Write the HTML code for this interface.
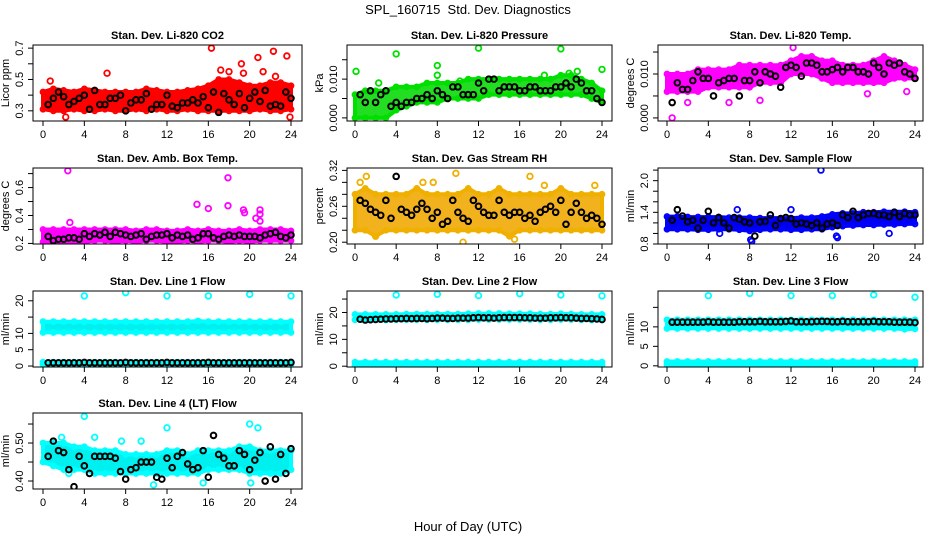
<!DOCTYPE html>
<html><head><meta charset="utf-8"><style>
body{margin:0;background:#fff}
svg{display:block;font-family:"Liberation Sans",Arial,sans-serif}
</style></head><body>
<svg id="chart" width="936" height="540" viewBox="0 0 936 540">
<text x="468" y="14" text-anchor="middle" font-size="13">SPL_160715&#160;&#160;Std. Dev. Diagnostics</text>
<text x="468" y="531" text-anchor="middle" font-size="13">Hour of Day (UTC)</text>
</svg>
<script>
// ---- data (hourly band low/high at hours 0..24, black half-hour means, outliers [hour,value]) ----
const co2Lo=[0.31,0.30,0.30,0.31,0.30,0.30,0.31,0.30,0.30,0.31,0.30,0.31,0.30,0.30,0.31,0.30,0.30,0.30,0.30,0.30,0.30,0.31,0.30,0.30,0.31];
const co2Hi=[0.42,0.44,0.43,0.42,0.44,0.43,0.42,0.42,0.42,0.42,0.44,0.43,0.42,0.42,0.43,0.44,0.46,0.50,0.50,0.48,0.46,0.46,0.48,0.48,0.46];
const co2Black=[0.34,0.38,0.42,0.39,0.34,0.36,0.38,0.40,0.31,0.43,0.34,0.34,0.38,0.38,0.40,0.30,0.35,0.37,0.37,0.41,0.31,0.34,0.34,0.40,0.33,0.32,0.35,0.35,0.37,0.35,0.39,0.32,0.42,0.29,0.41,0.37,0.34,0.41,0.32,0.38,0.42,0.36,0.43,0.33,0.34,0.33,0.42,0.38];
const co2Out=[[6.2,0.54],[16.3,0.70],[20.8,0.64],[22.3,0.68],[23.6,0.65],[19.2,0.60],[19.4,0.54],[17.2,0.56],[0.7,0.49],[23.9,0.26],[2.2,0.26],[21.3,0.55],[18.0,0.55],[22.5,0.52]];

const presLo=[0.000,0.000,0.000,0.000,0.002,0.003,0.004,0.004,0.004,0.005,0.005,0.005,0.005,0.006,0.006,0.006,0.006,0.006,0.006,0.006,0.006,0.006,0.006,0.005,0.004];
const presHi=[0.006,0.007,0.007,0.007,0.008,0.008,0.008,0.009,0.009,0.009,0.009,0.010,0.010,0.010,0.010,0.010,0.010,0.010,0.010,0.010,0.011,0.011,0.010,0.009,0.007];
const presBlack=[0.006,0.004,0.007,0.004,0.006,0.007,0.003,0.004,0.003,0.004,0.004,0.005,0.005,0.006,0.005,0.007,0.006,0.005,0.008,0.008,0.006,0.006,0.006,0.009,0.007,0.010,0.010,0.007,0.008,0.008,0.008,0.007,0.007,0.008,0.008,0.007,0.007,0.007,0.008,0.008,0.009,0.008,0.010,0.009,0.007,0.007,0.005,0.004];
const presOut=[[0.1,0.0120],[4.0,0.0165],[8.0,0.0135],[8.0,0.0110],[12.0,0.0180],[20.0,0.0178],[24.0,0.0125],[2.3,0.0090],[18.4,0.0110],[20.8,0.0115],[21.6,0.0120],[10.2,0.0095]];

const tempLo=[0.006,0.006,0.006,0.006,0.007,0.007,0.007,0.007,0.007,0.008,0.008,0.008,0.010,0.010,0.010,0.009,0.008,0.008,0.008,0.008,0.008,0.008,0.009,0.009,0.009];
const tempHi=[0.010,0.010,0.010,0.011,0.011,0.011,0.011,0.012,0.012,0.012,0.012,0.012,0.013,0.014,0.014,0.013,0.013,0.012,0.012,0.012,0.013,0.014,0.013,0.012,0.011];
const tempBlack=[0.0035,0.008,0.0065,0.0065,0.0085,0.0105,0.009,0.009,0.005,0.008,0.0085,0.009,0.009,0.005,0.0085,0.0085,0.0105,0.008,0.0105,0.010,0.0095,0.007,0.0115,0.012,0.0115,0.0095,0.0125,0.0125,0.012,0.0105,0.0105,0.011,0.0115,0.0105,0.0115,0.0115,0.0105,0.0105,0.010,0.0125,0.0115,0.010,0.0125,0.012,0.0125,0.0105,0.010,0.009];
const tempOut=[[0.5,0.0],[12.2,0.0160],[2.0,0.0035],[6.0,0.0035],[9.0,0.0040],[19.4,0.0055],[23.2,0.0060]];

const ambLo=[0.21,0.21,0.21,0.21,0.21,0.22,0.22,0.21,0.22,0.21,0.22,0.22,0.21,0.21,0.22,0.21,0.22,0.22,0.21,0.22,0.21,0.22,0.22,0.22,0.22];
const ambHi=[0.30,0.30,0.30,0.30,0.30,0.30,0.30,0.30,0.30,0.29,0.30,0.30,0.29,0.29,0.30,0.29,0.30,0.29,0.29,0.30,0.29,0.30,0.30,0.30,0.29];
const ambBlack=[0.25,0.22,0.23,0.23,0.24,0.24,0.23,0.27,0.25,0.27,0.26,0.28,0.25,0.28,0.27,0.26,0.25,0.26,0.27,0.23,0.25,0.26,0.26,0.27,0.24,0.26,0.25,0.26,0.23,0.24,0.27,0.27,0.24,0.23,0.25,0.26,0.25,0.26,0.25,0.25,0.25,0.24,0.26,0.27,0.28,0.25,0.24,0.26];
const ambOut=[[2.4,0.72],[17.9,0.67],[14.9,0.48],[17.9,0.47],[16.0,0.45],[19.4,0.44],[19.5,0.42],[21.0,0.44],[21.0,0.41],[20.6,0.38],[21.0,0.36],[2.6,0.35]];

const rhLo=[0.22,0.22,0.21,0.22,0.22,0.22,0.22,0.22,0.22,0.22,0.22,0.22,0.22,0.22,0.22,0.21,0.22,0.22,0.22,0.22,0.22,0.22,0.22,0.22,0.22];
const rhHi=[0.28,0.29,0.28,0.28,0.28,0.28,0.29,0.28,0.28,0.28,0.28,0.29,0.28,0.28,0.29,0.28,0.28,0.28,0.28,0.28,0.29,0.28,0.28,0.28,0.28];
const rhBlack=[0.27,0.265,0.255,0.25,0.245,0.27,0.24,0.31,0.255,0.25,0.245,0.255,0.265,0.255,0.24,0.25,0.23,0.235,0.27,0.25,0.24,0.235,0.27,0.26,0.25,0.245,0.245,0.27,0.25,0.245,0.25,0.25,0.24,0.245,0.235,0.25,0.255,0.26,0.25,0.27,0.23,0.25,0.265,0.25,0.24,0.245,0.24,0.23];
const rhOut=[[0.5,0.30],[1.1,0.31],[9.8,0.315],[17.0,0.31],[10.5,0.20],[2.0,0.21],[15.5,0.205],[6.6,0.30],[7.6,0.30],[18.4,0.295],[23.3,0.295]];

const sfLo=[1.08,1.08,1.08,1.07,1.07,1.08,1.08,1.07,1.05,1.07,1.08,1.08,1.07,1.07,1.08,1.08,1.12,1.14,1.15,1.16,1.16,1.17,1.17,1.18,1.18];
const sfHi=[1.32,1.32,1.31,1.31,1.31,1.31,1.30,1.30,1.30,1.29,1.29,1.29,1.29,1.30,1.30,1.32,1.36,1.38,1.38,1.40,1.40,1.41,1.41,1.41,1.40];
const sfBlack=[1.25,1.45,1.33,1.22,1.25,1.10,1.25,1.42,1.20,1.30,1.20,1.10,1.30,1.27,1.22,1.20,0.95,1.22,1.23,1.35,1.15,1.28,1.30,1.28,1.18,1.20,1.18,1.15,1.20,1.10,1.18,1.20,1.15,1.35,1.30,1.42,1.30,1.35,1.38,1.38,1.35,1.35,1.32,1.40,1.32,1.38,1.35,1.35];
const sfOut=[[14.9,2.2],[6.8,1.45],[8.2,0.85],[8.1,0.88],[16.4,0.95],[21.5,1.0],[5.1,1.0],[12.0,1.45],[16.5,0.92]];

const l1Lo=[10.3,10.3,10.3,10.3,10.3,10.3,10.3,10.3,10.3,10.3,10.3,10.3,10.3,10.3,10.3,10.3,10.3,10.3,10.3,10.3,10.3,10.3,10.3,10.3,10.3];
const l1Hi=[13.6,13.6,13.6,13.6,13.6,13.6,13.6,13.6,13.6,13.6,13.6,13.6,13.6,13.6,13.6,13.8,13.6,13.6,13.6,13.6,13.6,13.6,13.6,13.6,13.6];
const l1BaseLo=[0.5,0.5,0.5,0.5,0.5,0.5,0.5,0.5,0.5,0.5,0.5,0.5,0.5,0.5,0.5,0.5,0.5,0.5,0.5,0.5,0.5,0.5,0.5,0.5,0.5];
const l1BaseHi=[1.2,1.2,1.2,1.2,1.2,1.2,1.2,1.2,1.2,1.2,1.2,1.2,1.2,1.2,1.2,1.2,1.2,1.2,1.2,1.2,1.2,1.2,1.2,1.2,1.2];
const l1Black=[1.0,1.0,1.0,1.0,1.0,1.0,1.0,1.1,1.0,1.0,1.0,1.0,1.0,1.0,1.0,1.1,1.0,1.0,1.0,1.0,1.0,1.0,1.0,1.1,1.0,1.0,1.0,1.0,1.0,1.0,1.0,1.1,1.0,1.0,1.0,1.0,1.0,1.0,1.0,1.0,1.0,1.0,1.0,1.0,1.0,1.0,1.0,1.1];
const l1Out=[[4.0,21.5],[8.0,22.5],[12.0,21.5],[16.0,21.5],[20.0,22.0],[24.0,21.5]];

const l2Lo=[17.3,17.3,17.3,17.2,17.3,17.3,17.3,17.3,17.3,17.3,17.3,17.3,17.4,17.4,17.4,17.4,17.4,17.4,17.3,17.3,17.4,17.4,17.3,17.2,17.2];
const l2Hi=[19.3,19.3,19.3,19.3,19.3,19.4,19.4,19.4,19.4,19.4,19.4,19.5,19.6,19.6,19.6,19.5,19.5,19.5,19.4,19.4,19.5,19.4,19.3,19.3,19.3];
const l2BaseLo=[0.2,0.2,0.2,0.2,0.2,0.2,0.2,0.2,0.2,0.2,0.2,0.2,0.2,0.2,0.2,0.2,0.2,0.2,0.2,0.2,0.2,0.2,0.2,0.2,0.2];
const l2BaseHi=[1.5,1.5,1.5,1.5,1.5,1.5,1.5,1.5,1.5,1.5,1.5,1.5,1.5,1.5,1.5,1.5,1.5,1.5,1.5,1.5,1.5,1.5,1.5,1.5,1.5];
const l2Black=[17.5,17.2,17.3,17.4,17.5,17.6,17.6,17.7,17.7,17.8,17.7,17.8,17.8,17.7,17.8,17.9,17.9,17.8,17.8,17.9,17.9,17.9,18.0,18.1,18.0,18.0,17.9,18.0,18.1,18.1,18.1,18.1,18.0,18.0,17.9,17.9,17.9,18.0,18.0,18.1,18.0,18.0,17.9,17.8,17.8,17.7,17.6,17.4];
const l2Out=[[4.0,26.5],[8.0,26.8],[12.0,26.3],[16.0,27.0],[20.0,26.5],[24.0,26.2]];

const l3Lo=[9.6,9.6,9.6,9.6,9.6,9.6,9.6,9.6,9.6,9.6,9.6,9.6,9.6,9.6,9.6,9.6,9.6,9.6,9.6,9.6,9.6,9.6,9.6,9.4,9.5];
const l3Hi=[11.8,11.8,11.8,11.8,11.8,11.8,11.8,11.8,11.8,11.8,11.8,11.8,11.8,11.8,11.8,11.8,11.8,11.8,11.8,11.8,11.8,11.8,11.8,11.8,11.8];
const l3BaseLo=[0.3,0.3,0.3,0.3,0.3,0.3,0.3,0.3,0.3,0.3,0.3,0.3,0.3,0.3,0.3,0.3,0.3,0.3,0.3,0.3,0.3,0.3,0.3,0.3,0.3];
const l3BaseHi=[1.1,1.1,1.1,1.1,1.1,1.1,1.1,1.1,1.1,1.1,1.1,1.1,1.1,1.1,1.1,1.1,1.1,1.1,1.1,1.1,1.1,1.1,1.1,1.1,1.1];
const l3Black=[11.2,11.2,11.2,11.2,11.2,11.2,11.2,11.3,11.2,11.2,11.2,11.2,11.2,11.3,11.3,11.3,11.3,11.4,11.3,11.3,11.3,11.3,11.4,11.5,11.3,11.3,11.3,11.3,11.4,11.4,11.4,11.3,11.3,11.4,11.3,11.3,11.3,11.3,11.3,11.4,11.3,11.3,11.3,11.2,11.2,11.2,11.2,11.1];
const l3Out=[[4.0,18.0],[8.0,18.6],[12.0,18.0],[16.0,18.0],[20.0,18.2],[24.0,17.6]];

const l4Lo=[0.45,0.44,0.43,0.43,0.43,0.42,0.42,0.42,0.42,0.42,0.42,0.42,0.42,0.42,0.42,0.42,0.43,0.43,0.43,0.43,0.42,0.42,0.42,0.42,0.43];
const l4Hi=[0.50,0.50,0.50,0.49,0.49,0.48,0.48,0.48,0.47,0.47,0.47,0.47,0.48,0.48,0.47,0.48,0.48,0.48,0.48,0.49,0.49,0.48,0.48,0.48,0.48];
const l4Black=[0.465,0.505,0.48,0.475,0.43,0.385,0.465,0.44,0.42,0.465,0.465,0.465,0.465,0.46,0.425,0.405,0.43,0.435,0.45,0.45,0.45,0.41,0.405,0.46,0.435,0.465,0.475,0.445,0.43,0.435,0.48,0.41,0.52,0.47,0.46,0.44,0.44,0.48,0.47,0.43,0.455,0.475,0.40,0.49,0.405,0.47,0.42,0.485];
const l4Out=[[4.0,0.57],[12.0,0.54],[20.0,0.55],[20.8,0.54],[10.7,0.39],[15.5,0.395],[20.1,0.395],[2.5,0.42],[1.8,0.515],[5.0,0.515],[9.5,0.505],[7.6,0.505]];

const hourTicks=[0,4,8,12,16,20,24];

const panels=[
 {id:"co2",title:"Stan. Dev. Li-820 CO2",ylab:"Licor ppm",col:0,row:0,ymin:0.235,ymax:0.72,ticks:[0.3,0.4,0.5,0.6,0.7],labels:["0.3","","0.5","","0.7"],color:"#ff0000",fill:"#f00",lo:co2Lo,hi:co2Hi,black:co2Black,out:co2Out},
 {id:"pressure",title:"Stan. Dev. Li-820 Pressure",ylab:"kPa",col:1,row:0,ymin:-0.0008,ymax:0.0188,ticks:[0,0.005,0.01,0.015],labels:["0.000","","0.010",""],color:"#00e000",fill:"#22dd22",lo:presLo,hi:presHi,black:presBlack,out:presOut},
 {id:"temp",title:"Stan. Dev. Li-820 Temp.",ylab:"degrees C",col:2,row:0,ymin:-0.0007,ymax:0.0166,ticks:[0,0.005,0.01,0.015],labels:["0.000","","0.010",""],color:"#ff00ff",fill:"#ff00ff",lo:tempLo,hi:tempHi,black:tempBlack,out:tempOut},
 {id:"amb",title:"Stan. Dev. Amb. Box Temp.",ylab:"degrees C",col:0,row:1,ymin:0.196,ymax:0.74,ticks:[0.2,0.3,0.4,0.5,0.6,0.7],labels:["0.2","","0.4","","0.6",""],color:"#ff00ff",fill:"#ff00ff",lo:ambLo,hi:ambHi,black:ambBlack,out:ambOut},
 {id:"rh",title:"Stan. Dev. Gas Stream RH",ylab:"percent",col:1,row:1,ymin:0.197,ymax:0.324,ticks:[0.20,0.22,0.24,0.26,0.28,0.30,0.32],labels:["0.20","","","0.26","","","0.32"],color:"#f0b000",fill:"#f2b21e",lo:rhLo,hi:rhHi,black:rhBlack,out:rhOut},
 {id:"sampleflow",title:"Stan. Dev. Sample Flow",ylab:"ml/min",col:2,row:1,ymin:0.8,ymax:2.24,ticks:[0.8,1.0,1.2,1.4,1.6,1.8,2.0,2.2],labels:["0.8","","","1.4","","","2.0",""],color:"#0000ff",fill:"#0000ee",lo:sfLo,hi:sfHi,black:sfBlack,out:sfOut},
 {id:"line1",title:"Stan. Dev. Line 1 Flow",ylab:"ml/min",col:0,row:2,ymin:-0.3,ymax:23,ticks:[0,5,10,15,20],labels:["0","5","10","","20"],color:"#00ffff",fill:"#00f0f0",lo:l1Lo,hi:l1Hi,lo2:l1BaseLo,hi2:l1BaseHi,black:l1Black,out:l1Out},
 {id:"line2",title:"Stan. Dev. Line 2 Flow",ylab:"ml/min",col:1,row:2,ymin:-0.3,ymax:28,ticks:[0,5,10,15,20,25],labels:["0","","10","","20",""],color:"#00ffff",fill:"#00f0f0",lo:l2Lo,hi:l2Hi,lo2:l2BaseLo,hi2:l2BaseHi,black:l2Black,out:l2Out},
 {id:"line3",title:"Stan. Dev. Line 3 Flow",ylab:"ml/min",col:2,row:2,ymin:-0.3,ymax:19.2,ticks:[0,5,10,15],labels:["0","5","10",""],color:"#00ffff",fill:"#00f0f0",lo:l3Lo,hi:l3Hi,lo2:l3BaseLo,hi2:l3BaseHi,black:l3Black,out:l3Out},
 {id:"line4",title:"Stan. Dev. Line 4 (LT) Flow",ylab:"ml/min",col:0,row:3,ymin:0.379,ymax:0.579,ticks:[0.40,0.45,0.50,0.55],labels:["0.40","","0.50",""],color:"#00ffff",fill:"#00f0f0",lo:l4Lo,hi:l4Hi,black:l4Black,out:l4Out}
];

const colBox=[{l:33,r:302,x0:43,x24:291},{l:347,r:612,x0:355,x24:602},{l:658,r:923,x0:667,x24:915}];
const rowBox=[{t:45,b:121},{t:168,b:244},{t:291,b:367},{t:413,b:489}];
const NS="http://www.w3.org/2000/svg";
const svg=document.getElementById("chart");
function mk(tag,attrs,parent){const e=document.createElementNS(NS,tag);for(const k in attrs)e.setAttribute(k,attrs[k]);parent.appendChild(e);return e;}

panels.forEach(p=>{
 const c=colBox[p.col],r=rowBox[p.row];
 const xs=h=>c.x0+(c.x24-c.x0)*h/24;
 const ys=v=>r.b-(v-p.ymin)/(p.ymax-p.ymin)*(r.b-r.t);
 const g=mk("g",{},svg);
 
 
 const clipId="clip-"+p.id;
 const cp=mk("clipPath",{id:clipId},g);
 mk("rect",{x:c.l,y:r.t,width:c.r-c.l,height:r.b-r.t},cp);
 const plot=mk("g",{"clip-path":"url(#"+clipId+")"},g);
 
 
 function band(lo,hi,name){
  let d="";
  lo.forEach((v,i)=>{d+=(i?"L":"M")+xs(i).toFixed(1)+","+ys(v).toFixed(1);});
  for(let i=hi.length-1;i>=0;i--)d+="L"+xs(i).toFixed(1)+","+ys(hi[i]).toFixed(1);
  const b=mk("path",{d:d+"Z",fill:p.fill,stroke:p.color,"stroke-width":4,"stroke-linejoin":"round"},plot);
  
  
  for(let i=0;i<lo.length;i++){
   [lo[i],hi[i]].forEach(v=>{
    const ci=mk("circle",{cx:xs(i),cy:ys(v),r:2.6,fill:"none",stroke:p.color,"stroke-width":1.6},plot);
    
    
   });
  }
 }
 band(p.lo,p.hi,p.id+'-band');
 if(p.lo2)band(p.lo2,p.hi2,p.id+'-base-band');
 p.out.forEach(o=>{
  const ci=mk("circle",{cx:xs(o[0]),cy:ys(o[1]),r:2.8,fill:"none",stroke:p.color,"stroke-width":1.8},plot);
  
  
 });
 p.black.forEach((v,i)=>{
  const ci=mk("circle",{cx:xs(0.5*(i+1)),cy:ys(v),r:2.8,fill:"none",stroke:"#000","stroke-width":2},plot);
  
  
 });
 const box=mk("rect",{x:c.l,y:r.t,width:c.r-c.l,height:r.b-r.t,fill:"none",stroke:"#000","stroke-width":1},g);
 
 
 const t=mk("text",{x:(c.l+c.r)/2,y:r.t-6,"text-anchor":"middle","font-size":11,"font-weight":"bold"},g);
 t.textContent=p.title;
 
 
 hourTicks.forEach(h=>{
  mk("line",{x1:xs(h),x2:xs(h),y1:r.b,y2:r.b+5,stroke:"#000"},g);
  const tl=mk("text",{x:xs(h),y:r.b+17,"text-anchor":"middle","font-size":11},g);
  tl.textContent=h;
  
  
 });
 p.ticks.forEach((v,i)=>{
  const y=ys(v);
  mk("line",{x1:c.l-5,x2:c.l,y1:y,y2:y,stroke:"#000"},g);
  if(p.labels[i]){
   const tl=mk("text",{x:c.l-10,y:y,"text-anchor":"middle","font-size":11,transform:"rotate(-90 "+(c.l-10)+" "+y+")"},g);
   tl.textContent=p.labels[i];
   
   
  }
 });
 const yl=mk("text",{x:c.l-24,y:(r.t+r.b)/2,"text-anchor":"middle","font-size":11,transform:"rotate(-90 "+(c.l-24)+" "+((r.t+r.b)/2)+")"},g);
 yl.textContent=p.ylab;
 
 
});
</script>
</body></html>
